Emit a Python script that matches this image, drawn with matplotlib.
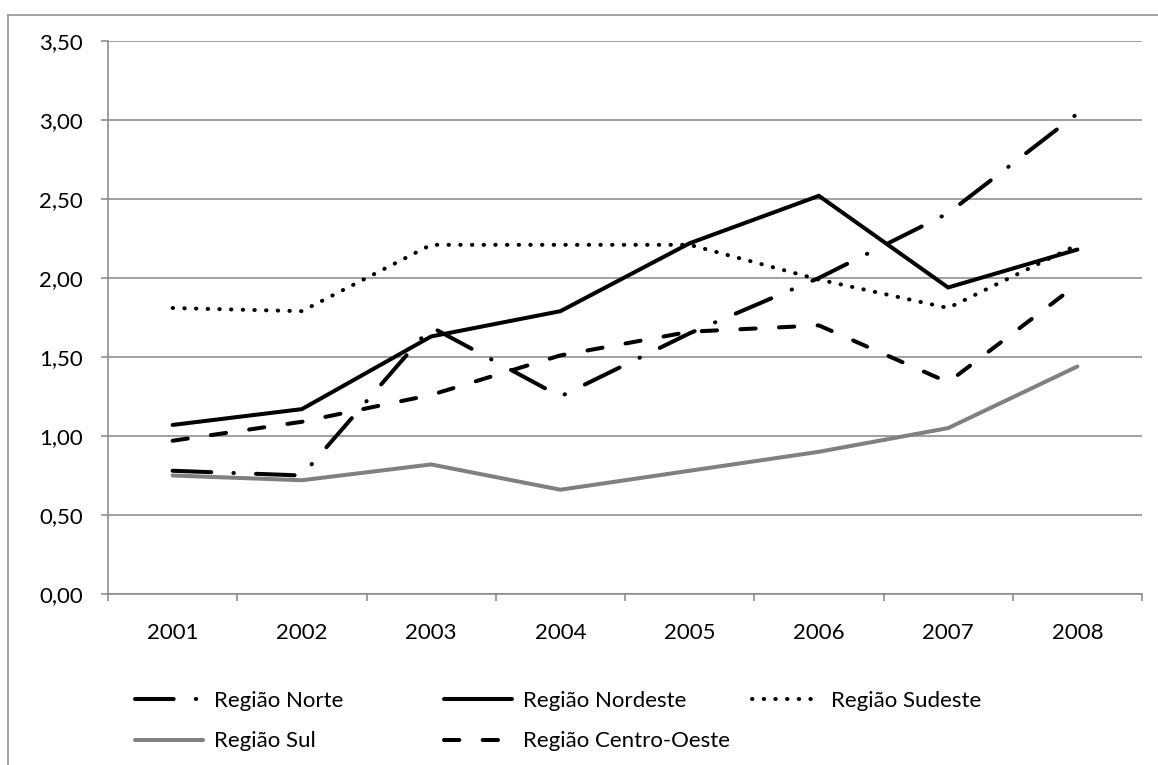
import matplotlib
matplotlib.use("Agg")
import matplotlib.pyplot as plt
from matplotlib.lines import Line2D
from matplotlib.ticker import FuncFormatter, FixedLocator

plt.rcParams['font.family'] = ['Lato', 'DejaVu Sans']

# Taxas por região, 2001-2008
anos = ['2001', '2002', '2003', '2004', '2005', '2006', '2007', '2008']
norte = [0.78, 0.75, 1.69, 1.25, 1.65, 2.00, 2.41, 3.04]
nordeste = [1.07, 1.17, 1.63, 1.79, 2.22, 2.52, 1.94, 2.18]
sudeste = [1.81, 1.79, 2.21, 2.21, 2.21, 1.99, 1.81, 2.21]
sul = [0.75, 0.72, 0.82, 0.66, 0.78, 0.90, 1.05, 1.44]
centro_oeste = [0.97, 1.09, 1.26, 1.51, 1.66, 1.70, 1.34, 1.96]

W, H = 1158, 765
fs = 16
fig = plt.figure(figsize=(W / 100, H / 100), dpi=100)
ax = fig.add_axes([108 / W, 1 - 594 / H, (1142 - 108) / W, (594 - 41) / H])

x = range(len(anos))
lw = 2.9
kw = dict(lw=lw, dash_capstyle='round', solid_capstyle='round', solid_joinstyle='miter')

l_norte, = ax.plot(x, norte, color='black', dashes=(9.6, 5.5, 0.1, 5.5), label='Região Norte', **kw)
l_nordeste, = ax.plot(x, nordeste, color='black', label='Região Nordeste', **kw)
l_sudeste, = ax.plot(x, sudeste, color='black', dashes=(0.1, 2.8), label='Região Sudeste', **kw)
l_sul, = ax.plot(x, sul, color='#808080', label='Região Sul', zorder=1.9, **kw)
l_co, = ax.plot(x, centro_oeste, color='black', dashes=(3.8, 5.8), label='Região Centro-Oeste', **kw)

grey = '#868686'
ax.set_xlim(-0.5, len(anos) - 0.5)
ax.set_ylim(0, 3.5)
ax.set_yticks([i * 0.5 for i in range(8)])
ax.yaxis.set_major_formatter(FuncFormatter(lambda v, p: f"{v:.2f}".replace('.', ',')))
ax.set_xticks(list(x))
ax.set_xticklabels(anos)
ax.xaxis.set_minor_locator(FixedLocator([i - 0.5 for i in range(len(anos) + 1)]))
ax.grid(axis='y', color=grey, lw=1.1)
ax.set_axisbelow(True)

for s in ['top', 'right']:
    ax.spines[s].set_visible(False)
for s in ['left', 'bottom']:
    ax.spines[s].set_color(grey)
    ax.spines[s].set_linewidth(1.1)

ax.tick_params(axis='y', length=5, width=1.1, color=grey, pad=13, labelsize=fs)
ax.tick_params(axis='x', which='major', length=0, pad=21, labelsize=fs)
ax.tick_params(axis='x', which='minor', length=5, width=1.1, color=grey)

# moldura do gráfico (apenas bordas superior e esquerda visíveis)
fig.add_artist(Line2D([8 / W, 8 / W], [0, 1 - 15 / H], color='#8c8c8c', lw=1.1))
fig.add_artist(Line2D([8 / W, 1], [1 - 15 / H, 1 - 15 / H], color='#8c8c8c', lw=1.1))

leg_kw = dict(loc='upper left', frameon=False, fontsize=fs, handlelength=3.05,
              handletextpad=0.5, labelspacing=0.92, borderpad=0, borderaxespad=0)
top = 1 - 691 / H
fig.legend([l_norte, l_sul], ['Região Norte', 'Região Sul'],
           bbox_to_anchor=(135 / W, top), **leg_kw)
fig.legend([l_nordeste, l_co], ['Região Nordeste', 'Região Centro-Oeste'],
           bbox_to_anchor=(444 / W, top), **leg_kw)
fig.legend([l_sudeste], ['Região Sudeste'],
           bbox_to_anchor=(752 / W, top), **leg_kw)

fig.savefig('out.png', dpi=100)
